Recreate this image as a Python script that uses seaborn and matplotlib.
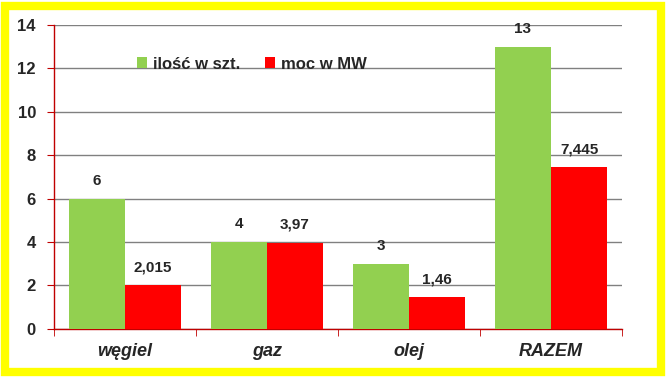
import matplotlib.pyplot as plt
import seaborn as sns
import pandas as pd
from matplotlib.patches import Rectangle

categories = ['węgiel', 'gaz', 'olej', 'RAZEM']
ilosc = [6, 4, 3, 13]
moc = [2.015, 3.97, 1.46, 7.445]
series = ['ilość w szt.', 'moc w MW']
colors = ['#92D050', '#FF0000']

df = pd.DataFrame({
    'kat': categories * 2,
    'wartosc': ilosc + moc,
    'seria': [series[0]] * 4 + [series[1]] * 4,
})

sns.set_style('white')
plt.rcParams['font.family'] = ['Liberation Sans', 'DejaVu Sans']

fig = plt.figure(figsize=(6.66, 3.78), dpi=100)
ax = fig.add_axes([0.081, 0.130, 0.853, 0.804])

sns.barplot(data=df, x='kat', y='wartosc', hue='seria', palette=colors,
            saturation=1, width=0.79, linewidth=0, ax=ax, zorder=3)

axis_red = '#C00000'
ax.set_ylim(0, 14)
ax.set_xlim(-0.5, 3.5)
ax.set_yticks(range(0, 15, 2))
ax.yaxis.grid(True, color='#808080', lw=1)
ax.set_axisbelow(True)
for s in ['top', 'right']:
    ax.spines[s].set_visible(False)
for s in ['left', 'bottom']:
    ax.spines[s].set_color(axis_red)
    ax.spines[s].set_linewidth(1)

ax.tick_params(axis='y', length=5, color=axis_red, labelsize=12, pad=8, left=True)
ax.tick_params(axis='x', which='major', length=0, labelsize=13, pad=10)
ax.set_xticks([-0.5, 0.5, 1.5, 2.5, 3.5], minor=True)
ax.tick_params(axis='x', which='minor', length=5, color=axis_red, bottom=True)
for lab in ax.get_yticklabels():
    lab.set_fontweight('bold')
for lab in ax.get_xticklabels():
    lab.set_fontweight('bold')
    lab.set_fontstyle('italic')
ax.set_xlabel('')
ax.set_ylabel('')

values = [ilosc, moc]
for cont, vals in zip(ax.containers, values):
    labs = [f'{v:g}'.replace('.', ',') for v in vals]
    ax.bar_label(cont, labels=labs, padding=8, fontsize=11, fontweight='bold')

ax.legend(loc='upper left', bbox_to_anchor=(0.12, 0.945), ncol=2, frameon=False,
          prop={'weight': 'bold', 'size': 12}, handlelength=0.6, handleheight=0.6,
          handletextpad=0.35, columnspacing=1.5)

fig.patches.append(Rectangle((0.008, 0.017), 0.984, 0.966, transform=fig.transFigure,
                             fill=False, edgecolor='#FFFF00', lw=6, zorder=10))

fig.savefig('out.png', dpi=100)
